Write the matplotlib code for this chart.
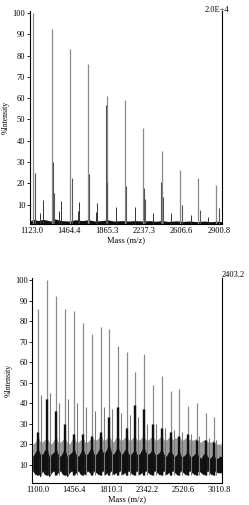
import numpy as np
import matplotlib
matplotlib.use('Agg')
import matplotlib.pyplot as plt

plt.rcParams['font.family'] = ['Liberation Serif', 'DejaVu Serif']

# --- TOP SPECTRUM ---
top_ticks = [1123.0, 1478.6, 1834.1, 2189.7, 2545.2, 2900.8]
top_tick_labels = ['1123.0', '1464.4', '1865.3', '2237.3', '2606.6', '2900.8']

top_main_mass = [1135, 1311, 1487, 1658, 1836, 2007, 2181, 2356, 2527, 2698, 2872]
top_main_int = [100, 92.5, 83, 76, 61, 59, 46, 35, 26.5, 22.5, 19.5]

top_side_mass = [1152, 1327, 1335, 1506, 1668, 1829, 1839, 2014, 2191, 2197,
                 2347, 2366, 2546, 2720, 2898]
top_side_int = [24.8, 29.9, 15.4, 22.7, 24.3, 57, 20.8, 19, 17.7, 12.7,
                20.5, 13.8, 9.9, 7.6, 8.6]

top_small_mass = [1199, 1231, 1384, 1399, 1556, 1573, 1727, 1744, 1919, 2102,
                  2271, 2445, 2632, 2799]
top_small_int = [6, 12.1, 7, 11.8, 7, 11.2, 6.5, 10.8, 9, 8.8, 6.2, 6, 5.2, 4.4]

top_base_mass = [1105, 1140, 1180, 1230, 1300, 1340, 1400, 1480, 1540, 1600, 1660,
                 1720, 1790, 1840, 1900, 1980, 2040, 2100, 2180, 2240, 2300, 2360,
                 2420, 2500, 2560, 2620, 2700, 2760, 2820, 2880, 2930]
top_base_high = [2.5, 3.2, 2.6, 3.2, 2.4, 3.4, 2.6, 2.4, 3, 2.6, 3, 2.4, 2.6, 3, 2.4,
                 2.6, 2.4, 2.6, 2.4, 2.6, 2.3, 2.6, 2.2, 2.5, 2.2, 2.4, 2.1, 2.4,
                 2.1, 2.3, 2.1]

# --- BOTTOM SPECTRUM ---
bot_ticks = [1100.0, 1482.2, 1864.3, 2246.5, 2628.6, 3010.8]
bot_tick_labels = ['1100.0', '1456.4', '1810.3', '2342.2', '2520.6', '3010.8']

bot_main_mass = [1100, 1194, 1289, 1383, 1478, 1572, 1667, 1761, 1851, 1940, 2034,
                 2118, 2213, 2307, 2402, 2496, 2586, 2675, 2769, 2864, 2948]
bot_main_int = [86, 100, 92, 86, 85, 79, 73.5, 77, 76, 68, 65,
                55, 64, 49, 53, 46, 47, 38.5, 40, 35, 33]
bot_dark_int = [26, 42, 36, 30, 25, 25, 24, 26, 33, 38, 28,
                39, 37, 30, 28, 26, 24, 25, 22, 22, 21]
bot_side_int = [44, 45, 40, 42, 40, 38, 36, 38, 37, 35, 34,
                33, 30, 30, 28, 27, 26, 25, 24, 23, 22]

noise_mass = [1045, 1072, 1100, 1124, 1147, 1170, 1194, 1218, 1242, 1266, 1289, 1312,
              1336, 1360, 1383, 1407, 1431, 1455, 1478, 1502, 1525, 1549, 1572, 1596,
              1620, 1644, 1667, 1690, 1714, 1738, 1761, 1784, 1806, 1828, 1851, 1873,
              1895, 1918, 1940, 1964, 1987, 2010, 2034, 2055, 2076, 2097, 2118, 2142,
              2166, 2190, 2213, 2236, 2260, 2284, 2307, 2331, 2355, 2378, 2402, 2426,
              2449, 2473, 2496, 2519, 2541, 2564, 2586, 2608, 2630, 2653, 2675, 2699,
              2722, 2746, 2769, 2793, 2816, 2840, 2864, 2885, 2906, 2927, 2948, 2969,
              2990, 3012, 3035]
noise_low = [7, 5, 6, 4, 7, 5, 6, 4, 6, 7, 5, 6, 7, 5, 6, 4, 6, 7, 5, 6, 7, 5, 6, 5,
             7, 6, 5, 7, 6, 5, 6, 7, 5, 6, 6, 7, 5, 6, 6, 7, 5, 6, 6, 7, 6, 5, 6, 7,
             5, 6, 6, 7, 6, 5, 6, 7, 6, 5, 6, 7, 5, 6, 6, 7, 6, 5, 6, 7, 6, 5, 6, 7,
             6, 5, 6, 7, 6, 5, 6, 7, 6, 5, 6, 7, 6, 6, 6]
noise_high = [14, 16, 18, 15, 15, 17, 18, 14, 15, 16, 18, 15, 14, 16, 18, 14, 15, 16,
              18, 15, 14, 16, 18, 15, 15, 17, 19, 15, 15, 17, 19, 16, 16, 18, 20, 16,
              15, 17, 19, 16, 15, 17, 18, 15, 15, 16, 18, 15, 15, 17, 19, 16, 15, 16,
              18, 15, 15, 16, 18, 15, 14, 16, 17, 15, 14, 15, 17, 14, 14, 15, 17, 14,
              14, 15, 16, 14, 13, 15, 16, 14, 13, 14, 15, 13, 13, 14, 14]
haze_high = [20, 21, 24, 21, 21, 22, 23, 21, 20, 22, 24, 21, 21, 22, 23, 21, 20, 22,
             24, 21, 21, 22, 23, 21, 21, 22, 24, 22, 22, 23, 25, 22, 22, 23, 24, 22,
             21, 23, 24, 22, 22, 23, 24, 22, 22, 23, 24, 22, 22, 23, 24, 22, 22, 23,
             24, 22, 22, 23, 24, 22, 22, 23, 24, 22, 23, 23, 24, 22, 22, 23, 23, 22,
             22, 22, 23, 21, 21, 22, 22, 21, 21, 21, 22, 20, 20, 20, 20]

GRAY = '#8a8a8a'
DARK = '#111111'

fig = plt.figure(figsize=(2.49, 5.05), dpi=100)
ax1 = fig.add_axes([0.1185, 0.5564, 0.775, 0.4224])
ax2 = fig.add_axes([0.1285, 0.0436, 0.765, 0.406])

# top panel
ax1.fill_between(top_base_mass, 1, top_base_high, color=DARK, lw=0)
ax1.vlines(top_small_mass, 1, top_small_int, color='#333333', lw=0.7)
ax1.vlines(top_main_mass, 1, top_main_int, color=GRAY, lw=0.9)
ax1.vlines(top_side_mass, 1, top_side_int, color='#555555', lw=0.8)
ax1.set_xlim(1099, 2934)
ax1.set_ylim(1, 101)
ax1.set_xticks(top_ticks)
ax1.set_xticklabels(top_tick_labels)
ax1.set_xlabel('Mass (m/z)', fontsize=6, labelpad=1)
ax1.text(0.971, 1.003, '2.0E+4', transform=ax1.transAxes, ha='center',
         va='center', fontsize=6)

# bottom panel
side_mass = [m + 31 for m in bot_main_mass]
dark_mass = [m - 10 for m in bot_main_mass]
ax2.fill_between(noise_mass, noise_low, haze_high, color='#9a9a9a', lw=0)
ax2.vlines(bot_main_mass, 5, bot_main_int, color=GRAY, lw=0.9)
ax2.vlines(side_mass, 5, bot_side_int, color='#7a7a7a', lw=0.8)
ax2.vlines(dark_mass, 5, bot_dark_int, color=DARK, lw=1.0)
ax2.vlines(bot_main_mass, 5, bot_dark_int, color=DARK, lw=1.0)
ax2.fill_between(noise_mass, noise_low, noise_high, color=DARK, lw=0)
ax2.set_xlim(1037, 3042)
ax2.set_ylim(1, 101)
ax2.set_xticks(bot_ticks)
ax2.set_xticklabels(bot_tick_labels)
ax2.set_xlabel('Mass (m/z)', fontsize=6, labelpad=1)
ax2.text(0.995, 1.015, '2403.2', transform=ax2.transAxes, ha='left',
         va='center', fontsize=6, clip_on=False)

for ax in (ax1, ax2):
    ax.set_yticks(range(10, 101, 10))
    ax.set_ylabel('%Intensity', fontsize=5.5, labelpad=2)
    ax.spines['top'].set_visible(False)
    for s in ('left', 'bottom', 'right'):
        ax.spines[s].set_linewidth(0.8)
    ax.tick_params(axis='both', labelsize=6, length=2, width=0.6, pad=1)
    ax.tick_params(axis='x', length=0, pad=2)

fig.savefig('out.png', dpi=100)
